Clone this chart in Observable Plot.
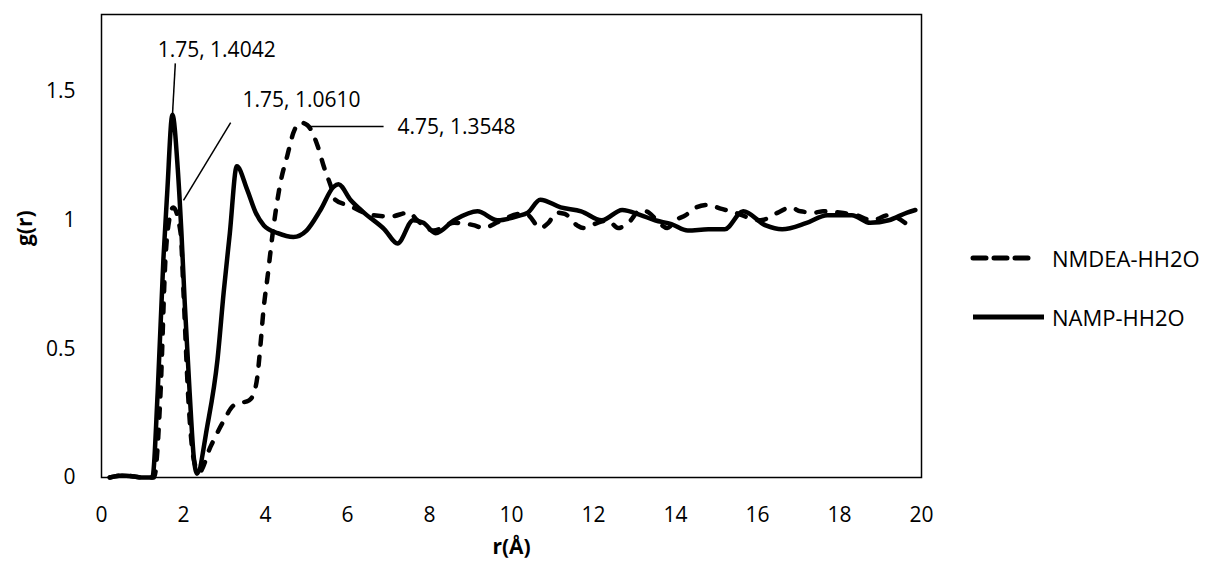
<!DOCTYPE html>
<html>
<head>
<meta charset="utf-8">
<script src="https://cdn.jsdelivr.net/npm/d3@7"></script>
<script src="https://cdn.jsdelivr.net/npm/@observablehq/plot@0.6"></script>
<style>
  body { margin: 0; background: #fff; }
  #wrap { position: relative; width: 1210px; height: 565px; font-family: "Open Sans", sans-serif; }
  #legend { position: absolute; left: 970px; top: 240px; font-size: 22px; color: #000; }
  .row { display: flex; align-items: center; height: 36px; margin-bottom: 23px; }
  .row svg { margin-right: 4px; }
</style>
</head>
<body>
<div id="wrap"><div id="legend"></div></div>
<script>
// ---- data ----
const seriesNames = ["NMDEA-HH2O", "NAMP-HH2O"];

const nmdeaR = [0.2, 0.5, 0.8, 1.0, 1.28, 1.44, 1.56, 1.65, 1.75, 1.93, 2.0, 2.12, 2.25, 2.38, 2.66, 2.98, 3.22, 3.4, 3.6, 3.72, 3.8, 3.88, 3.95, 4.05, 4.2, 4.37, 4.53, 4.68, 4.85, 5.02, 5.27, 5.42, 5.6, 5.7, 6.07, 6.4, 6.6, 7.05, 7.5, 7.7, 8.1, 8.6, 9.1, 9.3, 9.7, 10.2, 10.4, 10.7, 10.9, 11.1, 11.3, 11.6, 11.75, 12.1, 12.35, 12.6, 12.85, 13.15, 13.35, 13.6, 13.8, 14.0, 14.25, 14.5, 14.8, 15.1, 15.35, 15.8, 16.07, 16.5, 16.8, 17.05, 17.4, 17.6, 18.0, 18.4, 18.8, 19.2, 19.6];
const nmdeaG = [0, 0.008, 0.004, 0, 0, 0.33, 0.85, 1.0, 1.05, 0.95, 0.72, 0.3, 0.07, 0.02, 0.12, 0.22, 0.28, 0.29, 0.3, 0.33, 0.39, 0.52, 0.65, 0.78, 0.98, 1.15, 1.25, 1.34, 1.38, 1.37, 1.29, 1.21, 1.13, 1.08, 1.055, 1.03, 1.02, 1.015, 1.03, 1.0, 0.96, 0.99, 0.98, 0.97, 0.995, 1.025, 1.02, 0.97, 0.99, 1.03, 1.025, 0.98, 0.97, 0.99, 1.0, 0.97, 0.99, 1.04, 1.03, 0.99, 0.97, 1.0, 1.02, 1.05, 1.06, 1.045, 1.035, 1.01, 1.0, 1.03, 1.05, 1.035, 1.03, 1.035, 1.03, 1.02, 1.0, 1.02, 0.99];

const nampR = [0.2, 0.5, 0.8, 1.0, 1.24, 1.37, 1.51, 1.6, 1.73, 1.86, 1.95, 2.03, 2.15, 2.25, 2.33, 2.58, 2.83, 2.98, 3.13, 3.3, 3.55, 3.76, 3.96, 4.3, 4.68, 5.0, 5.34, 5.66, 5.78, 6.07, 6.4, 6.9, 7.22, 7.6, 7.85, 8.15, 8.6, 9.17, 9.66, 10.15, 10.4, 10.7, 11.2, 11.7, 12.2, 12.7, 13.15, 13.5, 13.9, 14.3, 14.8, 15.2, 15.65, 16.2, 16.6, 17.2, 17.7, 18.3, 18.75, 19.2, 19.65, 19.85];
const nampG = [0, 0.008, 0.004, 0, 0, 0.33, 0.85, 1.1, 1.41, 1.2, 0.95, 0.68, 0.33, 0.08, 0.015, 0.2, 0.46, 0.72, 0.95, 1.21, 1.12, 1.03, 0.98, 0.95, 0.935, 0.96, 1.04, 1.13, 1.14, 1.08, 1.03, 0.965, 0.91, 1.0, 0.99, 0.95, 1.0, 1.035, 1.0, 1.016, 1.03, 1.08, 1.05, 1.035, 1.0, 1.04, 1.02, 1.0, 0.985, 0.96, 0.965, 0.965, 1.035, 0.98, 0.965, 0.99, 1.02, 1.02, 0.99, 1.0, 1.03, 1.04];

const xTicks = [0, 2, 4, 6, 8, 10, 12, 14, 16, 18, 20];
const yTicks = [0, 0.5, 1, 1.5];
const xTitle = "r(Å)";
const yTitle = "g(r)";

// data labels (callouts)
const annLabels = ["1.75, 1.4042", "1.75, 1.0610", "4.75, 1.3548"];
const annTextX = [1.37, 3.44, 7.22];
const annTextY = [1.66, 1.466, 1.36];
const annLineX1 = [1.80, 3.15, 5.05];
const annLineY1 = [1.61, 1.38, 1.365];
const annLineX2 = [1.73, 2.0, 6.88];
const annLineY2 = [1.407, 1.077, 1.365];

// ---- build tables ----
const nmdea = nmdeaR.map((r, i) => ({r, g: nmdeaG[i]}));
const namp = nampR.map((r, i) => ({r, g: nampG[i]}));
const ann = annLabels.map((label, i) => ({
  label, tx: annTextX[i], ty: annTextY[i],
  x1: annLineX1[i], y1: annLineY1[i], x2: annLineX2[i], y2: annLineY2[i]
}));

const dash = "9,12";

const chart = Plot.plot({
  width: 1210,
  height: 565,
  marginLeft: 101,
  marginRight: 289,
  marginTop: 14,
  marginBottom: 88,
  style: {fontFamily: "'Open Sans', sans-serif", fontSize: "21px", color: "#000", background: "#fff"},
  x: {domain: [0, 20]},
  y: {domain: [0, 1.8]},
  marks: [
    Plot.axisX({ticks: xTicks, tickSize: 0, tickPadding: 30, tickFormat: d => String(d), label: null}),
    Plot.axisY({ticks: yTicks, tickSize: 0, tickPadding: 26, tickFormat: d => String(d), label: null}),
    Plot.line(nmdea, {x: "r", y: "g", stroke: "#000", strokeWidth: 4.5, strokeDasharray: dash, strokeLinecap: "round", curve: "monotone-x"}),
    Plot.line(namp, {x: "r", y: "g", stroke: "#000", strokeWidth: 4.5, curve: "monotone-x"}),
    Plot.frame({stroke: "#000", strokeWidth: 1.5}),
    Plot.link(ann, {x1: "x1", y1: "y1", x2: "x2", y2: "y2", stroke: "#000", strokeWidth: 1.5}),
    Plot.text(ann, {x: "tx", y: "ty", text: "label", textAnchor: "start", fill: "#000", fontSize: 21}),
    Plot.text([xTitle], {frameAnchor: "bottom", dy: 76, fontWeight: "bold", fontSize: 21, fill: "#000"}),
    Plot.text([yTitle], {frameAnchor: "left", dx: -76, rotate: -90, fontWeight: "bold", fontSize: 21, fill: "#000"})
  ]
});
document.getElementById("wrap").prepend(chart);

// ---- legend ----
const legend = document.getElementById("legend");
const styles = [{dash: "13,8"}, {dash: null}];
seriesNames.forEach((name, i) => {
  const row = document.createElement("div");
  row.className = "row";
  const w = 78;
  const dashAttr = styles[i].dash ? `stroke-dasharray="${styles[i].dash}"` : "";
  const len = styles[i].dash ? 58 : 74;
  row.innerHTML = `<svg width="${w}" height="12"><line x1="3" y1="6" x2="${len}" y2="6" stroke="#000" stroke-width="5" stroke-linecap="${styles[i].dash ? "round" : "butt"}" ${dashAttr}/></svg><span>${name}</span>`;
  legend.appendChild(row);
});
</script>
</body>
</html>
